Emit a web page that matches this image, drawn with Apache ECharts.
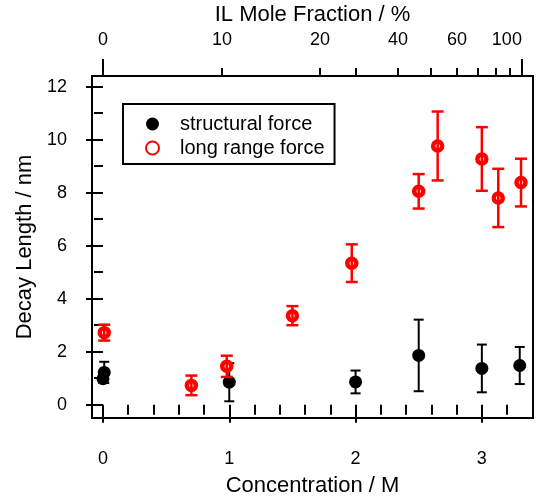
<!DOCTYPE html>
<html>
<head>
<meta charset="utf-8">
<script src="https://cdn.jsdelivr.net/npm/echarts@6/dist/echarts.min.js"></script>
<style>
  html, body { margin: 0; padding: 0; background: #fff; }
  #chart { width: 546px; height: 498px; }
</style>
</head>
<body>
<div id="chart"></div>
<script>
// structural force (black)
var structConc = [0.0, 0.01, 1.0, 2.0, 2.5, 3.0, 3.3];
var structLen = [0.98, 1.22, 0.85, 0.86, 1.86, 1.37, 1.48];
var structErr = [0.15, 0.4, 0.72, 0.43, 1.35, 0.9, 0.7];

// long range force (red)
var longConc = [0.01, 0.7, 0.98, 1.5, 1.97, 2.5, 2.65, 3.0, 3.13, 3.31];
var longLen = [2.72, 0.73, 1.45, 3.36, 5.34, 8.05, 9.76, 9.27, 7.8, 8.38];
var longErr = [0.3, 0.37, 0.4, 0.36, 0.71, 0.65, 1.3, 1.2, 1.1, 0.9];

// axis ticks
var concLabels = [0, 1, 2, 3];
var concMinor = [0.2, 0.4, 0.6, 0.8, 1.2, 1.4, 1.6, 1.8, 2.2, 2.4, 2.6, 2.8, 3.2];
var lenLabels = [0, 2, 4, 6, 8, 10, 12];
var lenMinor = [1, 3, 5, 7, 9, 11];

// top axis: mole fraction (%) and where it sits on the concentration scale
var molePct = [0, 10, 20, 40, 60, 100];
var molePos = [0, 0.942, 1.718, 2.336, 2.803, 3.317];
var moleMinorPos = [0.942, 1.718, 2.003, 2.336, 2.597, 2.803, 2.969, 3.112, 3.223];

var FONT = "'Liberation Sans', Arial, Helvetica, sans-serif";
var xMin = -0.087, xMax = 3.405;

function errData(xs, ys, es) {
    return xs.map(function (x, i) { return [x, ys[i] - es[i], ys[i] + es[i]]; });
}

function errBars(color, lw, cap) {
    return function (params, api) {
        var x = api.value(0);
        var lo = api.coord([x, api.value(1)]);
        var hi = api.coord([x, api.value(2)]);
        var st = { stroke: color, lineWidth: lw };
        return {
            type: 'group',
            children: [
                { type: 'line', shape: { x1: lo[0], y1: lo[1], x2: hi[0], y2: hi[1] }, style: st },
                { type: 'line', shape: { x1: lo[0] - cap, y1: lo[1], x2: lo[0] + cap, y2: lo[1] }, style: st },
                { type: 'line', shape: { x1: hi[0] - cap, y1: hi[1], x2: hi[0] + cap, y2: hi[1] }, style: st }
            ]
        };
    };
}

var myChart = echarts.init(document.getElementById('chart'));

myChart.setOption({
    animation: false,
    textStyle: { fontFamily: FONT },
    grid: {
        left: 92, right: 13, top: 76, bottom: 80,
        outerBoundsMode: 'none',
        show: true, borderColor: '#000', borderWidth: 2
    },
    legend: {
        data: ['structural force', 'long range force'],
        orient: 'vertical',
        left: 123, top: 104,
        padding: [10, 10, 6, 22],
        itemGap: 4,
        itemWidth: 25, itemHeight: 13,
        borderColor: '#000', borderWidth: 2,
        textStyle: { fontFamily: FONT, fontSize: 20, color: '#000', padding: [0, 0, 0, 10] }
    },
    xAxis: [{
        type: 'value', position: 'bottom', min: xMin, max: xMax,
        name: 'Concentration / M', nameLocation: 'middle', nameGap: 57,
        nameTextStyle: { fontFamily: FONT, fontSize: 22, color: '#000' },
        axisLine: { show: false },
        splitLine: { show: false },
        axisTick: { show: true, customValues: concLabels, length: 18, lineStyle: { color: '#000', width: 2 } },
        axisLabel: { customValues: concLabels, margin: 32, fontFamily: FONT, fontSize: 18, color: '#000' }
    }, {
        type: 'value', position: 'bottom', min: xMin, max: xMax,
        axisLine: { show: false }, splitLine: { show: false },
        axisTick: { show: true, customValues: concMinor, length: 10, lineStyle: { color: '#000', width: 2 } },
        axisLabel: { show: false }
    }, {
        type: 'value', position: 'top', min: xMin, max: xMax,
        name: 'IL Mole Fraction / %', nameLocation: 'middle', nameGap: 37,
        nameTextStyle: { fontFamily: FONT, fontSize: 22, color: '#000' },
        axisLine: { show: false }, splitLine: { show: false },
        axisTick: { show: true, customValues: [molePos[0], molePos[molePos.length - 1]], length: 17, lineStyle: { color: '#000', width: 2 } },
        axisLabel: {
            customValues: molePos, margin: 27, fontFamily: FONT, fontSize: 18, color: '#000',
            alignMaxLabel: 'right',
            formatter: function (v) {
                var i = molePos.indexOf(v);
                return i >= 0 ? String(molePct[i]) : '';
            }
        }
    }, {
        type: 'value', position: 'top', min: xMin, max: xMax,
        axisLine: { show: false }, splitLine: { show: false },
        axisTick: { show: true, customValues: moleMinorPos, length: 8, lineStyle: { color: '#000', width: 2 } },
        axisLabel: { show: false }
    }],
    yAxis: [{
        type: 'value', position: 'left', min: -0.5, max: 12.4,
        name: 'Decay Length / nm', nameLocation: 'middle', nameGap: 55,
        nameTextStyle: { fontFamily: FONT, fontSize: 22, color: '#000' },
        axisLine: { show: false }, splitLine: { show: false },
        axisTick: { show: true, customValues: lenLabels, length: 17, lineStyle: { color: '#000', width: 2 } },
        axisLabel: { customValues: lenLabels, margin: 25, fontFamily: FONT, fontSize: 18, color: '#000' }
    }, {
        type: 'value', position: 'left', min: -0.5, max: 12.4,
        axisLine: { show: false }, splitLine: { show: false },
        axisTick: { show: true, customValues: lenMinor, length: 9, lineStyle: { color: '#000', width: 2 } },
        axisLabel: { show: false }
    }],
    series: [{
        name: 'structural force',
        type: 'scatter',
        symbol: 'circle', symbolSize: 13,
        itemStyle: { color: '#000', opacity: 1 },
        data: structConc.map(function (x, i) { return [x, structLen[i]]; }),
        z: 3
    }, {
        name: 'structural err',
        type: 'custom',
        renderItem: errBars('#000', 2, 5),
        data: errData(structConc, structLen, structErr),
        encode: { x: 0, y: [1, 2] },
        z: 4
    }, {
        name: 'long range force',
        type: 'scatter',
        symbol: 'circle', symbolSize: 9,
        itemStyle: { color: '#fff', borderColor: '#ff0000', borderWidth: 4.5, opacity: 1 },
        data: longConc.map(function (x, i) { return [x, longLen[i]]; }),
        z: 5
    }, {
        name: 'long range err',
        type: 'custom',
        renderItem: errBars('#ff0000', 2.5, 6),
        data: errData(longConc, longLen, longErr),
        encode: { x: 0, y: [1, 2] },
        z: 6
    }]
});
</script>
</body>
</html>
